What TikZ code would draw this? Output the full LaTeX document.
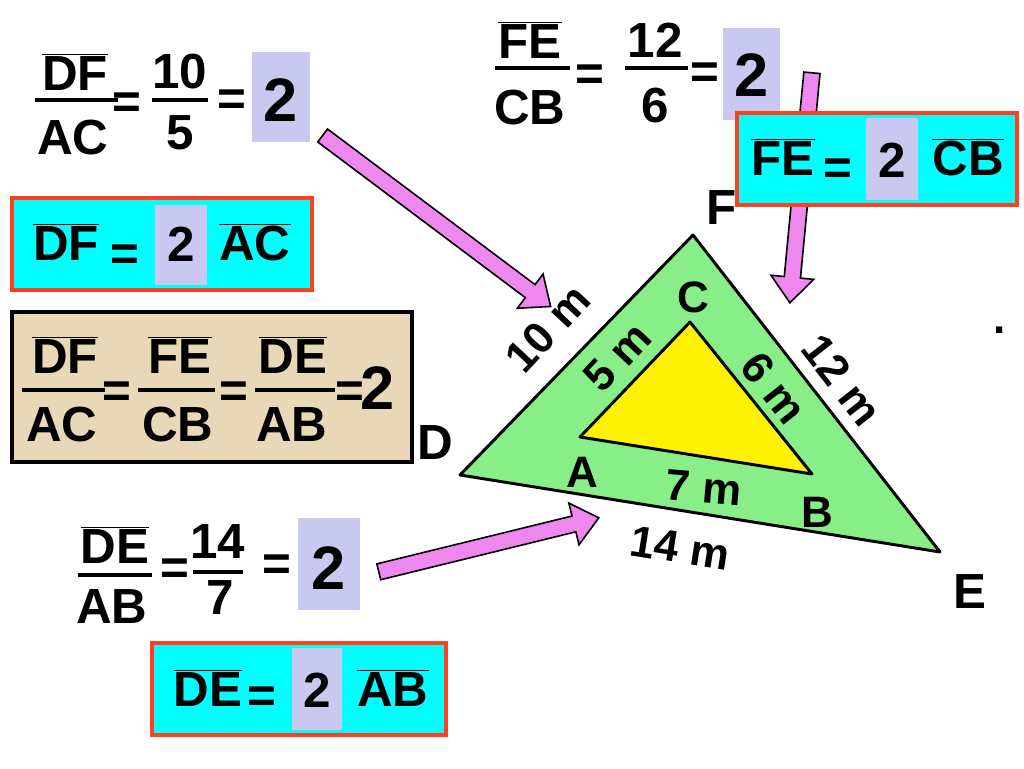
\documentclass[tikz,border=0pt]{standalone}
\usepackage{fontspec}
\setmainfont{Liberation Sans}
\usetikzlibrary{shapes.arrows,calc}
\definecolor{lav}{HTML}{C8C8F0}
\definecolor{cy}{HTML}{00FFFF}
\definecolor{rd}{HTML}{FF4020}
\definecolor{pk}{HTML}{EE88EE}
\definecolor{gr}{HTML}{88EE88}
\definecolor{tan}{HTML}{E8D8B8}
\newcommand{\ol}[1]{$\overline{\mbox{#1}}$}
\tikzset{
 t/.style={font=\fontsize{37}{37}\bfseries\selectfont, inner sep=0},
 big/.style={font=\fontsize{46}{46}\bfseries\selectfont, inner sep=0},
 fb/.style={line width=3.5pt},
 cybox/.style={fill=cy, draw=rd, line width=3.5pt},
 fatarrow/.style={single arrow, draw=black, fill=pk, line width=1.2pt, inner sep=5.5pt, single arrow head extend=10pt, single arrow tip angle=80},
 lab/.style={font=\fontsize{33}{33}\bfseries\selectfont, inner sep=0},
 labL/.style={font=\fontsize{37}{37}\bfseries\selectfont, inner sep=0}
}
\begin{document}
\begin{tikzpicture}[x=0.75pt,y=-0.75pt]
\useasboundingbox (0,0) rectangle (1024,768);
\coordinate (D) at (460,475); \coordinate (F) at (693,235); \coordinate (E) at (940,552);
\coordinate (A) at (580,437); \coordinate (C) at (690,322); \coordinate (B) at (812,474);
\draw[fill=gr, line width=2.2pt, line join=round] (D) -- (F) -- (E) -- cycle;
\draw[fill=yellow, line width=2.2pt, line join=round] (A) -- (C) -- (B) -- cycle;
\node[labL] (lF) at (722,208) {F};
\node[lab] (lC) at (693,297) {C};
\node[labL] (lD) at (435,443) {D};
\node[lab] (lA) at (582,472) {A};
\node[lab] (lB) at (817,512) {B};
\node[labL] (lE) at (970,592) {E};
\node[lab, rotate=47] (s10) at (548,328) {10 m};
\node[lab, rotate=47] (s5) at (617,357) {5 m};
\node[lab, rotate=-52] (s6) at (774,388) {6 m};
\node[lab, rotate=-52] (s12) at (842,380) {12 m};
\node[lab, rotate=-5] (s7) at (704,488) {7 m};
\node[lab, rotate=-9] (s14) at (680,548) {14 m};
\node[lab] (dot) at (1000,330) {.};
\coordinate (a1t) at (322,135); \coordinate (a1h) at (550,306);
\coordinate (a2t) at (812,72); \coordinate (a2h) at (790,302);
\coordinate (a3t) at (378,572); \coordinate (a3h) at (598,518);
\foreach \s/\e in {a1t/a1h,a2t/a2h,a3t/a3h}{
 \path let \p1=(\s), \p2=(\e), \n1={atan2(\y2-\y1,\x2-\x1)}, \n2={veclen(\x2-\x1,\y2-\y1)} in
  node[fatarrow, minimum height=\n2, rotate=\n1, anchor=tail] at (\s) {};
}
% top-left fraction
\node[t] (n1) at (75,72) {\ol{DF}}; \draw[fb] (35,100) -- (118,100); \node[t] (d1) at (73,138) {AC};
\node[t] (e1) at (127,106) {=};
\node[t] (n2) at (180,72) {10}; \draw[fb] (152,100) -- (208,100); \node[t] (d2) at (180,133) {5};
\node[t] (e2) at (232,103) {=};
\fill[lav] (252,52) rectangle (310,142); \node[big] (v1) at (281,100) {2};
% top-right fraction
\node[t] (n3) at (530,40) {\ol{FE}}; \draw[fb] (495,68) -- (570,68); \node[t] (d3) at (530,108) {CB};
\node[t] (e3) at (590,78) {=};
\node[t] (n4) at (655,40) {12}; \draw[fb] (625,68) -- (688,68); \node[t] (d4) at (655,106) {6};
\node[t] (e4) at (705,76) {=};
\fill[lav] (723,28) rectangle (780,120); \node[big] (v2) at (752,75) {2};
% bottom-left fraction
\node[t] (n5) at (115,545) {\ol{DE}}; \draw[fb] (78,575) -- (152,575); \node[t] (d5) at (112,607) {AB};
\node[t] (e5) at (175,572) {=};
\node[t] (n6) at (218,542) {14}; \draw[fb] (193,572) -- (243,572); \node[t] (d6) at (220,598) {7};
\node[t] (e6) at (277,568) {=};
\fill[lav] (298,518) rectangle (360,610); \node[big] (v3) at (329,568) {2};
% cyan boxes
\draw[cybox] (12,198) rectangle (312,290);
\fill[lav] (155,205) rectangle (207,285);
\node[t] (b1a) at (66,242) {\ol{DF}}; \node[t] (b1e) at (125,258) {=}; \node[t] (b1v) at (181,244) {2}; \node[t] (b1b) at (255,242) {\ol{AC}};
\draw[cybox] (737,113) rectangle (1017,205);
\fill[lav] (866,118) rectangle (918,200);
\node[t] (b2a) at (783,157) {\ol{FE}}; \node[t] (b2e) at (838,172) {=}; \node[t] (b2v) at (892,160) {2}; \node[t] (b2b) at (968,157) {\ol{CB}};
\draw[cybox] (152,643) rectangle (446,735);
\fill[lav] (292,648) rectangle (342,730);
\node[t] (b3a) at (208,688) {\ol{DE}}; \node[t] (b3e) at (262,700) {=}; \node[t] (b3v) at (317,690) {2}; \node[t] (b3b) at (393,688) {\ol{AB}};
% tan box
\draw[fill=tan, line width=2.5pt] (12,312) rectangle (412,462);
\node[t] (c1) at (65,355) {\ol{DF}}; \draw[fb] (22,390) -- (105,390); \node[t] (c2) at (62,425) {AC};
\node[t] (ce1) at (117,395) {=};
\node[t] (c3) at (180,355) {\ol{FE}}; \draw[fb] (138,390) -- (215,390); \node[t] (c4) at (178,425) {CB};
\node[t] (ce2) at (234,395) {=};
\node[t] (c5) at (293,355) {\ol{DE}}; \draw[fb] (255,390) -- (335,390); \node[t] (c6) at (292,425) {AB};
\node[t] (ce3) at (350,395) {=}; \node[big] (c7) at (378,388) {2};
\end{tikzpicture}
\end{document}
